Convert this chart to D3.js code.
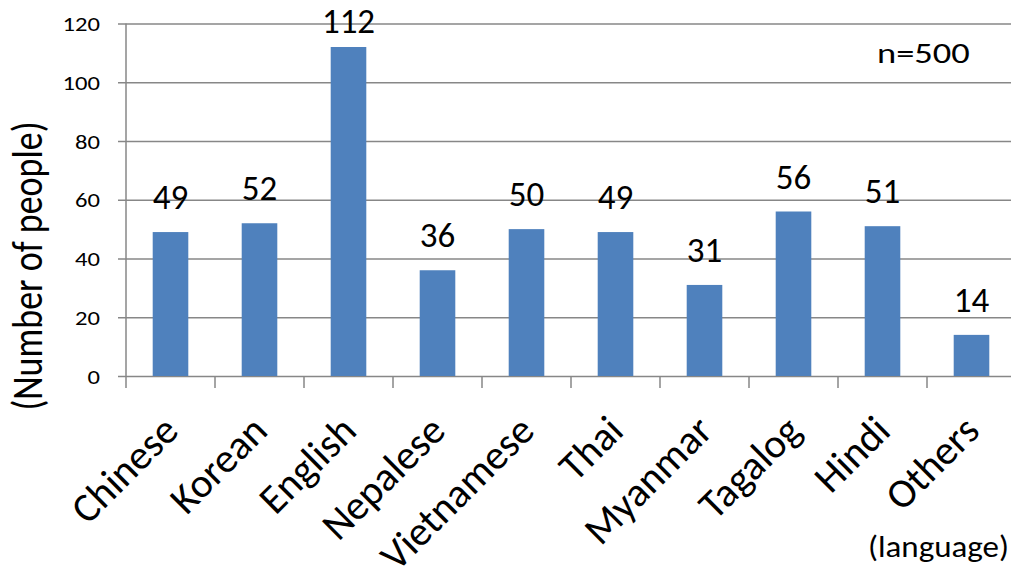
<!DOCTYPE html>
<html>
<head>
<meta charset="utf-8">
<script src="https://cdn.jsdelivr.net/npm/d3@7"></script>
<style>
  html, body { margin: 0; padding: 0; background: #fff; }
  svg { display: block; font-family: Carlito, Calibri, Lato, sans-serif; }
</style>
</head>
<body>
<svg id="chart" width="1011" height="569"></svg>
<script>
// Respondents by language
const languages = ["Chinese", "Korean", "English", "Nepalese", "Vietnamese", "Thai", "Myanmar", "Tagalog", "Hindi", "Others"];
const people = [49, 52, 112, 36, 50, 49, 31, 56, 51, 14];
const yTicks = [0, 20, 40, 60, 80, 100, 120];

const svg = d3.select("#chart");
const W = 1011;
const plot = { left: 126, right: 1016, top: 23.5, bottom: 376 };

const x = d3.scaleBand()
  .domain(languages)
  .range([plot.left, plot.right])
  .paddingInner(0.6)
  .paddingOuter(0.3);

const y = d3.scaleLinear()
  .domain([0, 120])
  .range([plot.bottom, plot.top]);

const gridColor = "#878787";

// horizontal gridlines with left ticks
const yAxis = d3.axisLeft(y)
  .tickValues(yTicks)
  .tickSize(-(W - plot.left))
  .tickSizeOuter(0)
  .tickFormat(d3.format("d"));

const gy = svg.append("g")
  .attr("transform", `translate(${plot.left},0)`)
  .call(yAxis);
gy.select(".domain").remove();
gy.attr("font-family", null).attr("font-size", null);
gy.selectAll(".tick line")
  .attr("x1", -8)
  .attr("stroke", gridColor)
  .attr("stroke-width", 1.5);
gy.selectAll(".tick text")
  .attr("x", null)
  .attr("dy", null)
  .attr("transform", "translate(-26,7) scale(1.2,1)")
  .attr("font-size", 20.5)
  .attr("fill", "#000");

// vertical axis line
svg.append("line")
  .attr("x1", plot.left).attr("x2", plot.left)
  .attr("y1", y(120)).attr("y2", y(0))
  .attr("stroke", gridColor).attr("stroke-width", 1.5);

// category boundary ticks under the baseline
const boundaries = languages.map(d => x(d) - x.step() * 0.3).concat([plot.right]);
svg.append("g").selectAll("line")
  .data(boundaries)
  .join("line")
  .attr("x1", d => d).attr("x2", d => d)
  .attr("y1", y(0)).attr("y2", y(0) + 12)
  .attr("stroke", gridColor).attr("stroke-width", 1.5);

// bars
svg.append("g").selectAll("rect")
  .data(languages)
  .join("rect")
  .attr("x", d => x(d))
  .attr("width", x.bandwidth())
  .attr("y", (d, i) => y(people[i]))
  .attr("height", (d, i) => y(0) - y(people[i]))
  .attr("fill", "#4F81BD");

// value labels
svg.append("g").selectAll("text")
  .data(languages)
  .join("text")
  .attr("x", d => x(d) + x.bandwidth() / 2)
  .attr("y", (d, i) => Math.max(y(people[i]) - 23, 33))
  .attr("text-anchor", "middle")
  .attr("font-size", 35)
  .attr("fill", "#000")
  .text((d, i) => people[i]);

// rotated category labels
svg.append("g").selectAll("text")
  .data(languages)
  .join("text")
  .attr("transform", d => `translate(${x(d) + x.bandwidth() / 2 + 10},${y(0) + 57}) rotate(-45)`)
  .attr("text-anchor", "end")
  .attr("font-size", 41)
  .attr("fill", "#000")
  .text(d => d);

// y axis title
svg.append("text")
  .attr("transform", `translate(42,266) scale(1.17,1) rotate(-90)`)
  .attr("text-anchor", "middle")
  .attr("font-size", 36)
  .attr("fill", "#000")
  .text("(Number of people)");

// x axis title
svg.append("text")
  .attr("transform", "translate(1009,557) scale(1.1,1)")
  .attr("text-anchor", "end")
  .attr("font-size", 30)
  .attr("fill", "#000")
  .text("(language)");

// sample size note
svg.append("text")
  .attr("transform", "translate(877,63) scale(1.28,1)")
  .attr("font-size", 28.5)
  .attr("fill", "#000")
  .text("n=500");
</script>
</body>
</html>
